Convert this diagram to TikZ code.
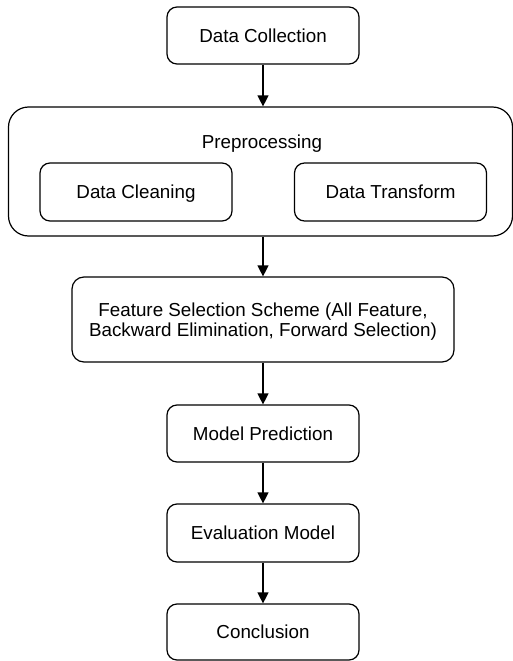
\documentclass[tikz,border=0pt]{standalone}
\usepackage{fontspec}
\setmainfont{Liberation Sans}
\usetikzlibrary{arrows.meta}

\begin{document}
\begin{tikzpicture}[x=1pt,y=-1pt,
  stage/.style={draw,line width=1.2pt,rounded corners=10pt,align=center,inner sep=0pt,
    minimum width=192pt,minimum height=57pt,text height=13.5pt,text depth=0pt,
    font=\fontsize{18.8}{19.5}\selectfont},
  flow/.style={-{Triangle[length=11pt,width=11pt]},line width=1.3pt}]
\useasboundingbox (0,0) rectangle (513,661);
\node[stage,minimum width=504pt,minimum height=129pt,rounded corners=20pt](prep) at (260.5,171.5){};
\node[font=\fontsize{18.8}{19.5}\selectfont,text height=13.5pt,text depth=0pt](preplabel) at (262,142){Preprocessing};
\node[stage](collect) at (263,35.5){Data Collection};
\node[stage,minimum height=58pt](clean) at (136,192){Data Cleaning};
\node[stage,minimum height=58pt](transf) at (390.5,192){Data Transform};
\node[stage,minimum width=382pt,minimum height=85pt,rounded corners=12pt,text height=33pt](feat) at (263,319.5){Feature Selection Scheme (All Feature,\\Backward Elimination, Forward Selection)};
\node[stage](predict) at (263,433.5){Model Prediction};
\node[stage,minimum height=58pt](evalm) at (263,533){Evaluation Model};
\node[stage,minimum height=56pt](concl) at (263,632){Conclusion};
\draw[flow](collect) -- (collect|-prep.north);
\draw[flow](prep.south-|feat) -- (feat);
\draw[flow](feat) -- (predict);
\draw[flow](predict) -- (evalm);
\draw[flow](evalm) -- (concl);
\end{tikzpicture}
\end{document}
